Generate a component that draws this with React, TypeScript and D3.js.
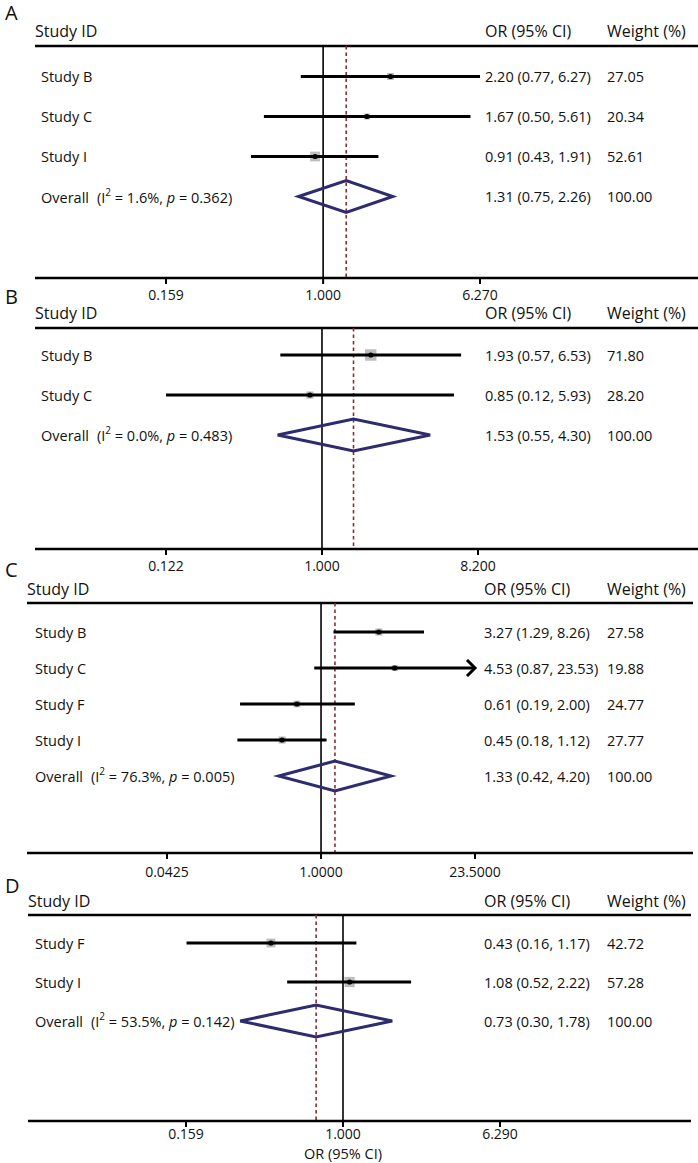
import React from "react";
import * as d3 from "d3";

// ---------- DATA ----------
const studiesA = ["Study B", "Study C", "Study I"];
const orA = [2.2, 1.67, 0.91];
const lowA = [0.77, 0.5, 0.43];
const highA = [6.27, 5.61, 1.91];
const weightA = [27.05, 20.34, 52.61];
const overallA = [1.31, 0.75, 2.26];
const hetA = ["1.6%", "0.362"];
const ticksA = [0.159, 1, 6.27];
const tickLabelsA = ["0.159", "1.000", "6.270"];

const studiesB = ["Study B", "Study C"];
const orB = [1.93, 0.85];
const lowB = [0.57, 0.12];
const highB = [6.53, 5.93];
const weightB = [71.8, 28.2];
const overallB = [1.53, 0.55, 4.3];
const hetB = ["0.0%", "0.483"];
const ticksB = [0.122, 1, 8.2];
const tickLabelsB = ["0.122", "1.000", "8.200"];

const studiesC = ["Study B", "Study C", "Study F", "Study I"];
const orC = [3.27, 4.53, 0.61, 0.45];
const lowC = [1.29, 0.87, 0.19, 0.18];
const highC = [8.26, 23.53, 2.0, 1.12];
const weightC = [27.58, 19.88, 24.77, 27.77];
const overallC = [1.33, 0.42, 4.2];
const hetC = ["76.3%", "0.005"];
const ticksC = [0.0425, 1, 23.5];
const tickLabelsC = ["0.0425", "1.0000", "23.5000"];

const studiesD = ["Study F", "Study I"];
const orD = [0.43, 1.08];
const lowD = [0.16, 0.52];
const highD = [1.17, 2.22];
const weightD = [42.72, 57.28];
const overallD = [0.73, 0.3, 1.78];
const hetD = ["53.5%", "0.142"];
const ticksD = [0.159, 1, 6.29];
const tickLabelsD = ["0.159", "1.000", "6.290"];

const xAxisTitle = "OR (95% CI)";

// ---------- STYLE ----------
const FONT = "'Open Sans', 'Noto Sans', sans-serif";
const NAVY = "#2e2c6e";
const MAROON = "#8a2d2d";

const fmt2 = (v: number) => v.toFixed(2);

type PanelProps = {
  letter: string;
  studies: string[];
  ors: number[];
  lows: number[];
  highs: number[];
  weights: number[];
  overall: number[];
  het: string[];
  ticks: number[];
  tickLabels: string[];
  layout: {
    letterY: number;
    idY: number;
    headY: number;
    rowStart: number;
    rowStep: number;
    axisY: number;
    tickLabelBase: number;
    x0: number;
    x1: number;
    titleX: number;
    labelX: number;
    orX: number;
    wX: number;
    xL: number;
    xR: number;
    dh: number;
  };
  axisTitle?: string;
  axisTitleBase?: number;
};

function Panel(p: PanelProps) {
  const L = p.layout;
  const x = d3.scaleLog().domain([p.ticks[0], p.ticks[2]]).range([L.xL, L.xR]);
  const rowY = (i: number) => L.rowStart + i * L.rowStep;
  const ovY = rowY(p.studies.length);
  const maxX = p.ticks[2];
  const minX = p.ticks[0];
  const diamond = [
    [x(p.overall[1]), ovY],
    [x(p.overall[0]), ovY - L.dh],
    [x(p.overall[2]), ovY],
    [x(p.overall[0]), ovY + L.dh],
  ];
  return (
    <g fontFamily={FONT} fill="#111">
      <text x={5} y={L.letterY} fontSize={20} dominantBaseline="central">
        {p.letter}
      </text>
      <text x={L.titleX} y={L.idY} fontSize={16} dominantBaseline="central">
        Study ID
      </text>
      <text x={L.orX} y={L.idY} fontSize={16} dominantBaseline="central">
        OR (95% CI)
      </text>
      <text x={L.wX} y={L.idY} fontSize={16} dominantBaseline="central">
        Weight (%)
      </text>
      <line x1={L.x0} x2={L.x1} y1={L.headY} y2={L.headY} stroke="#000" strokeWidth={2.5} />
      {/* null line */}
      <line x1={x(1)} x2={x(1)} y1={L.headY} y2={L.axisY} stroke="#000" strokeWidth={1.6} />
      {/* overall dashed line */}
      <line
        x1={x(p.overall[0])}
        x2={x(p.overall[0])}
        y1={L.headY}
        y2={L.axisY}
        stroke={MAROON}
        strokeWidth={1.6}
        strokeDasharray="3.5,3"
      />
      {p.studies.map((s, i) => {
        const y = rowY(i);
        const lo = Math.max(p.lows[i], minX);
        const hiClipped = p.highs[i] > maxX;
        const hi = Math.min(p.highs[i], maxX);
        const side = 1.35 * Math.sqrt(p.weights[i]);
        const cx = x(p.ors[i]);
        return (
          <g key={s}>
            <text x={L.labelX} y={y} fontSize={14.5} dominantBaseline="central">
              {s}
            </text>
            <rect x={cx - side / 2} y={y - side / 2} width={side} height={side} fill="#bdbdbd" />
            <line x1={x(lo)} x2={x(hi)} y1={y} y2={y} stroke="#000" strokeWidth={3} />
            {hiClipped && (
              <polyline
                points={`${x(hi) - 8},${y - 8} ${x(hi)},${y} ${x(hi) - 8},${y + 8}`}
                fill="none"
                stroke="#000"
                strokeWidth={3}
              />
            )}
            <circle cx={cx} cy={y} r={2.6} fill="#000" />
            <text x={L.orX} y={y} fontSize={14.5} dominantBaseline="central">
              {`${fmt2(p.ors[i])} (${fmt2(p.lows[i])}, ${fmt2(p.highs[i])})`}
            </text>
            <text x={L.wX} y={y} fontSize={14.5} dominantBaseline="central">
              {fmt2(p.weights[i])}
            </text>
          </g>
        );
      })}
      {/* overall */}
      <text
        x={L.labelX}
        y={ovY}
        fontSize={14.5}
        dominantBaseline="central"
        style={{ whiteSpace: "pre" }}
      >
        <tspan>Overall</tspan>
        <tspan dx={8}>(I</tspan>
        <tspan fontSize={10} dy={-5}>2</tspan>
        <tspan dy={5}>{` = ${p.het[0]}, `}</tspan>
        <tspan fontStyle="italic">p</tspan>
        <tspan>{` = ${p.het[1]})`}</tspan>
      </text>
      <polygon
        points={diamond.map((d) => d.join(",")).join(" ")}
        fill="none"
        stroke={NAVY}
        strokeWidth={3}
        strokeLinejoin="miter"
      />
      <text x={L.orX} y={ovY} fontSize={14.5} dominantBaseline="central">
        {`${fmt2(p.overall[0])} (${fmt2(p.overall[1])}, ${fmt2(p.overall[2])})`}
      </text>
      <text x={L.wX} y={ovY} fontSize={14.5} dominantBaseline="central">
        100.00
      </text>
      {/* axis */}
      <line x1={L.x0} x2={L.x1} y1={L.axisY} y2={L.axisY} stroke="#000" strokeWidth={2.5} />
      {p.ticks.map((t, i) => (
        <g key={i}>
          <line x1={x(t)} x2={x(t)} y1={L.axisY} y2={L.axisY + 6} stroke="#000" strokeWidth={2} />
          <text x={x(t)} y={L.tickLabelBase} fontSize={14} textAnchor="middle">
            {p.tickLabels[i]}
          </text>
        </g>
      ))}
      {p.axisTitle && (
        <text x={x(1)} y={p.axisTitleBase} fontSize={14.5} textAnchor="middle">
          {p.axisTitle}
        </text>
      )}
    </g>
  );
}

export default function App() {
  return (
    <svg
      width={698}
      height={1163}
      style={{ position: "absolute", left: 0, top: 0, background: "#fff" }}
    >
      <rect width={698} height={1163} fill="#fff" />
      <Panel
        letter="A"
        studies={studiesA}
        ors={orA}
        lows={lowA}
        highs={highA}
        weights={weightA}
        overall={overallA}
        het={hetA}
        ticks={ticksA}
        tickLabels={tickLabelsA}
        layout={{
          letterY: 12, idY: 31, headY: 46, rowStart: 76.5, rowStep: 40,
          axisY: 278, tickLabelBase: 300, x0: 35, x1: 698, titleX: 35, labelX: 41,
          orX: 485, wX: 607, xL: 166, xR: 480, dh: 16,
        }}
      />
      <Panel
        letter="B"
        studies={studiesB}
        ors={orB}
        lows={lowB}
        highs={highB}
        weights={weightB}
        overall={overallB}
        het={hetB}
        ticks={ticksB}
        tickLabels={tickLabelsB}
        layout={{
          letterY: 296, idY: 313, headY: 328, rowStart: 355, rowStep: 40,
          axisY: 549, tickLabelBase: 571, x0: 35, x1: 698, titleX: 35, labelX: 41,
          orX: 485, wX: 607, xL: 166, xR: 478, dh: 16,
        }}
      />
      <Panel
        letter="C"
        studies={studiesC}
        ors={orC}
        lows={lowC}
        highs={highC}
        weights={weightC}
        overall={overallC}
        het={hetC}
        ticks={ticksC}
        tickLabels={tickLabelsC}
        layout={{
          letterY: 569, idY: 589, headY: 603, rowStart: 632, rowStep: 36,
          axisY: 853, tickLabelBase: 877, x0: 27, x1: 693, titleX: 27, labelX: 35,
          orX: 484, wX: 607, xL: 167, xR: 475, dh: 15,
        }}
      />
      <Panel
        letter="D"
        studies={studiesD}
        ors={orD}
        lows={lowD}
        highs={highD}
        weights={weightD}
        overall={overallD}
        het={hetD}
        ticks={ticksD}
        tickLabels={tickLabelsD}
        layout={{
          letterY: 885, idY: 901, headY: 915, rowStart: 943, rowStep: 39,
          axisY: 1121, tickLabelBase: 1139, x0: 28, x1: 691, titleX: 28, labelX: 35,
          orX: 484, wX: 607, xL: 186, xR: 500, dh: 16,
        }}
        axisTitle={xAxisTitle}
        axisTitleBase={1158.5}
      />
    </svg>
  );
}
